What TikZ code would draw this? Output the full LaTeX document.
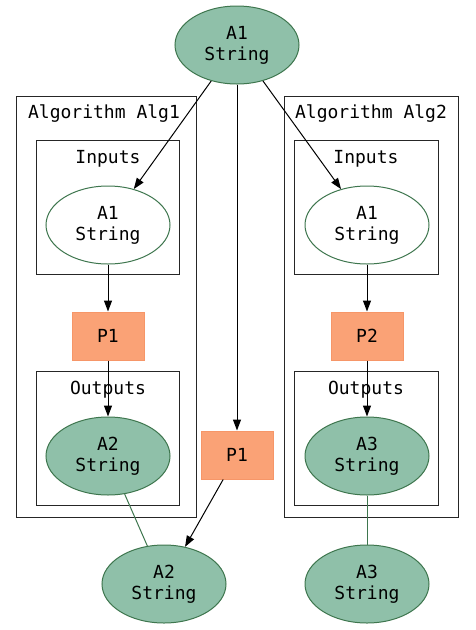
\documentclass[tikz,border=0pt]{standalone}
\usepackage{fontspec}
\setmonofont{DejaVu Sans Mono}
\usetikzlibrary{shapes.geometric,arrows.meta}

\definecolor{artfill}{RGB}{143,192,169}
\definecolor{artline}{RGB}{62,118,78}
\definecolor{procfill}{RGB}{250,162,118}
\definecolor{procline}{RGB}{246,150,104}

\begin{document}
\begin{tikzpicture}[x=1pt,y=-1pt,
    every node/.style={font=\fontsize{18}{21}\selectfont\ttfamily, align=center},
    artifact/.style={ellipse, draw=artline, fill=artfill, line width=1pt,
      minimum width=124pt, minimum height=78pt, inner sep=0pt},
    inartifact/.style={artifact, fill=white},
    process/.style={rectangle, draw=procline, fill=procfill, line width=1pt,
      minimum width=72pt, minimum height=48pt},
    cluster/.style={draw=black!85, line width=1pt},
    flow/.style={-{Triangle[length=11pt,width=8pt]}, line width=1pt},
    link/.style={artline, line width=1pt}]
    \useasboundingbox (0,0) rectangle (475,630);

    % Algorithm Alg1 (cluster on left)
    \draw[cluster] (16,96) rectangle (196,517);
    \node (alg1label) at (104,114) {Algorithm Alg1};
    \draw[cluster] (36,140) rectangle (179,274);
    \node (alg1inlabel) at (108,159) {Inputs};
    \draw[cluster] (36,371) rectangle (179,505);
    \node (alg1outlabel) at (108,390) {Outputs};

    % Algorithm Alg2 (cluster on right)
    \draw[cluster] (284,96) rectangle (458,517);
    \node (alg2label) at (371,114) {Algorithm Alg2};
    \draw[cluster] (294,140) rectangle (438,274);
    \node (alg2inlabel) at (366,159) {Inputs};
    \draw[cluster] (294,371) rectangle (438,505);
    \node (alg2outlabel) at (366,390) {Outputs};

    % Artifacts
    \node[artifact] (a1) at (237,45) {A1\\String};
    \node[inartifact] (alg1a1) at (108,225) {A1\\String};
    \node[artifact] (alg1a2) at (108,456) {A2\\String};
    \node[inartifact] (alg2a1) at (367,225) {A1\\String};
    \node[artifact] (alg2a3) at (367,456) {A3\\String};
    \node[artifact] (a2) at (164,584) {A2\\String};
    \node[artifact] (a3) at (367,584) {A3\\String};

    % Processes
    \node[process] (alg1p1) at (108,336) {P1};
    \node[process] (alg2p2) at (367,336) {P2};
    \node[process] (p1) at (237,455) {P1};

    % Data flow
    \draw[flow] (a1) -- (alg1a1);
    \draw[flow] (a1) -- (alg2a1);
    \draw[flow] (a1) -- (p1);
    \draw[flow] (alg1a1) -- (alg1p1);
    \draw[flow] (alg1p1) -- (alg1a2);
    \draw[flow] (alg2a1) -- (alg2p2);
    \draw[flow] (alg2p2) -- (alg2a3);
    \draw[flow] (p1) -- (a2);

    % Outputs tied to their results
    \draw[link] (alg1a2) -- (a2);
    \draw[link] (alg2a3) -- (a3);
\end{tikzpicture}
\end{document}
